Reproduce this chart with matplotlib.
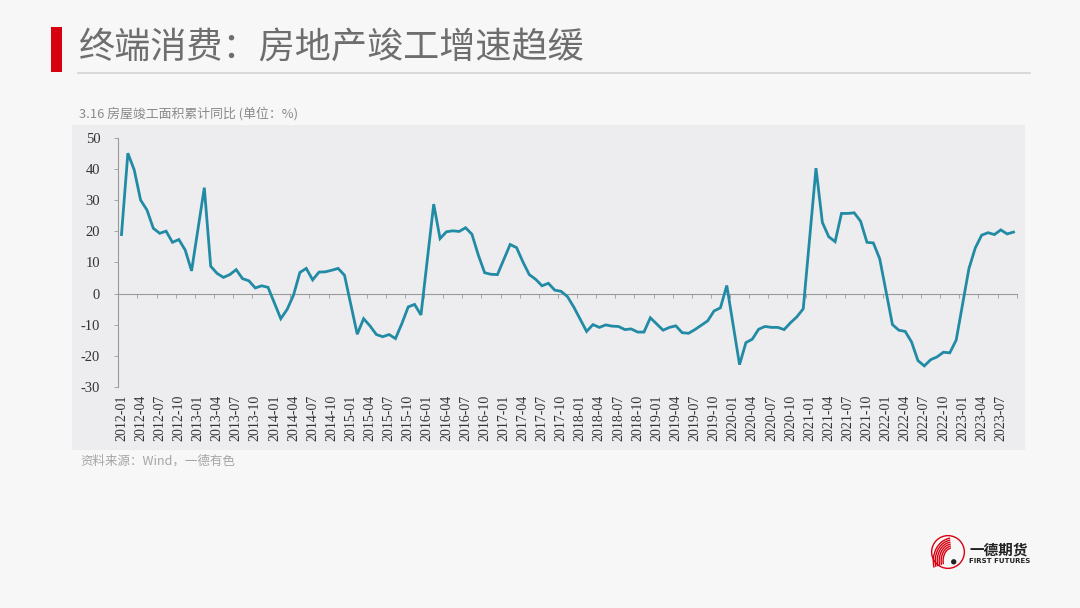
import numpy as np
import pandas as pd
import matplotlib
matplotlib.use("Agg")
import matplotlib.pyplot as plt
from matplotlib.patches import Rectangle, Circle, Arc

plt.rcParams["axes.unicode_minus"] = False

CJK = ["Noto Sans CJK SC", "DejaVu Sans"]

# Data: cumulative YoY of completed floor area (%), monthly from 2012-01
# January (after 2012) is not published separately -> NaN, line joins Dec to Feb
START_MONTH = "2012-01"
completion_yoy = [
    19.0, 45.2, 39.8, 30.1, 26.9, 21.0, 19.4, 20.1, 16.5, 17.4, 14.0, 7.3,      # 2012
    np.nan, 34.1, 8.8, 6.5, 5.2, 6.1, 7.7, 4.8, 4.1, 1.8, 2.5, 2.0,            # 2013
    np.nan, -8.1, -5.1, -0.5, 6.8, 8.1, 4.4, 6.9, 7.0, 7.5, 8.1, 5.9,          # 2014
    np.nan, -13.1, -8.1, -10.4, -13.2, -13.9, -13.2, -14.5, -9.7, -4.3, -3.5, -6.9,  # 2015
    np.nan, 28.8, 17.7, 19.9, 20.2, 20.0, 21.2, 19.1, 12.4, 6.7, 6.2, 6.1,     # 2016
    np.nan, 15.8, 14.8, 10.2, 6.1, 4.6, 2.5, 3.3, 1.1, 0.7, -1.0, -4.4,        # 2017
    np.nan, -12.2, -10.0, -10.9, -10.1, -10.5, -10.6, -11.6, -11.4, -12.4, -12.4, -7.8,  # 2018
    np.nan, -11.8, -10.9, -10.4, -12.6, -12.8, -11.6, -10.2, -8.8, -5.6, -4.6, 2.6,     # 2019
    np.nan, -22.9, -15.8, -14.7, -11.5, -10.6, -10.9, -10.9, -11.6, -9.4, -7.5, -4.9,   # 2020
    np.nan, 40.4, 22.9, 18.3, 16.7, 25.8, 25.8, 26.0, 23.3, 16.5, 16.3, 11.2,  # 2021
    np.nan, -10.0, -11.8, -12.2, -15.6, -21.6, -23.3, -21.3, -20.4, -18.9, -19.1, -15.0,  # 2022
    np.nan, 8.0, 14.7, 18.8, 19.6, 19.0, 20.5, 19.2, 19.8,                    # 2023
]
y_ticks = [-30, -20, -10, 0, 10, 20, 30, 40, 50]
LABEL_STEP = 3

TITLE = "终端消费：房地产竣工增速趋缓"
SUBTITLE = "3.16 房屋竣工面积累计同比 (单位：%)"
SOURCE = "资料来源：Wind，一德有色"

LINE_COLOR = "#218BA5"
AXIS_COLOR = "#9a9a9a"

values = np.array(completion_yoy, dtype=float)
months = pd.date_range(START_MONTH, periods=len(values), freq="MS").strftime("%Y-%m")
x = np.arange(len(values))
valid = ~np.isnan(values)

fig = plt.figure(figsize=(10.8, 6.08), dpi=100)
fig.patch.set_facecolor("#f7f7f7")

# chart panel (behind the axes)
fig.patches.append(Rectangle((72 / 1080, 1 - 450 / 608), (1025 - 72) / 1080, (450 - 125) / 608,
                             transform=fig.transFigure, facecolor="#edecee", edgecolor="none",
                             zorder=-5))

# title block
fig.patches.append(Rectangle((51 / 1080, 1 - 72 / 608), 11 / 1080, 45 / 608,
                             transform=fig.transFigure, facecolor="#d7000f", edgecolor="none"))
fig.text(79 / 1080, 1 - 48 / 608, TITLE, family=CJK, fontsize=26, color="#6e6e6e",
         weight="light", va="center", ha="left")
fig.add_artist(plt.Line2D([78 / 1080, 1030 / 1080], [1 - 73 / 608] * 2, color="#d4d4d4", lw=1.2))

fig.text(79 / 1080, 1 - 114 / 608, SUBTITLE, family=CJK, fontsize=9.3, color="#8a8a8a",
         va="center", ha="left")
fig.text(80 / 1080, 1 - 461 / 608, SOURCE, family=CJK, fontsize=9, color="#a5a5a5",
         va="center", ha="left")

# main axes
ax = fig.add_axes([118.3 / 1080, 1 - 386.7 / 608, (1016.7 - 118.3) / 1080, (386.7 - 138.3) / 608])
ax.set_facecolor("none")
ax.plot(x[valid], values[valid], color=LINE_COLOR, lw=2.0, solid_joinstyle="miter", zorder=3)

ax.set_xlim(-0.5, len(values) - 0.5)
ax.set_ylim(y_ticks[0], y_ticks[-1])

for side in ["top", "right"]:
    ax.spines[side].set_visible(False)
ax.spines["left"].set_color(AXIS_COLOR)
ax.spines["left"].set_linewidth(0.8)
ax.spines["bottom"].set_position(("data", 0))
ax.spines["bottom"].set_color(AXIS_COLOR)
ax.spines["bottom"].set_linewidth(0.8)

ax.set_yticks(y_ticks)
ax.set_yticklabels([str(v) for v in y_ticks])
ax.tick_params(axis="y", direction="out", length=3, width=0.6, color=AXIS_COLOR, pad=10,
               labelsize=10.5, labelcolor="#333333")
for lab in ax.get_yticklabels():
    lab.set_family("Liberation Serif")

# tick marks on the zero line between category groups
ax.set_xticks(np.arange(-0.5, len(values), LABEL_STEP))
ax.tick_params(axis="x", direction="out", length=3, width=0.6, color=AXIS_COLOR, labelbottom=False)

# category labels at the bottom of the plot
sec = ax.secondary_xaxis("bottom")
sec.set_xticks(x[::LABEL_STEP])
sec.set_xticklabels(months[::LABEL_STEP], rotation=90, family="Liberation Serif", fontsize=10,
                    color="#333333")
sec.tick_params(length=0, pad=6)
sec.spines["bottom"].set_visible(False)

# logo
lax = fig.add_axes([928 / 1080, 1 - 570 / 608, 40 / 1080, 36 / 608])
lax.set_xlim(-1.1, 1.1)
lax.set_ylim(-1.1, 1.1)
lax.set_aspect("equal")
lax.axis("off")
lax.add_patch(Circle((0, 0), 1.0, fill=False, edgecolor="#d7000f", lw=1.0))
for k in range(6):
    r = 0.35 + 0.12 * k
    lax.add_patch(Arc((0.25, -0.55), 2 * r + 0.4, 2 * r + 0.9, theta1=95, theta2=200,
                      edgecolor="#d7000f", lw=1.0))
lax.add_patch(Circle((0.35, -0.6), 0.12, color="#222222"))
fig.text(969 / 1080, 1 - 550 / 608, "一德期货", family=CJK, fontsize=10.5, weight="bold",
         color="#222222", va="center", ha="left")
fig.text(969 / 1080, 1 - 561 / 608, "FIRST FUTURES", family="DejaVu Sans", fontsize=5,
         weight="bold", color="#222222", va="center", ha="left")

fig.savefig("out.png", dpi=100, facecolor=fig.get_facecolor())
